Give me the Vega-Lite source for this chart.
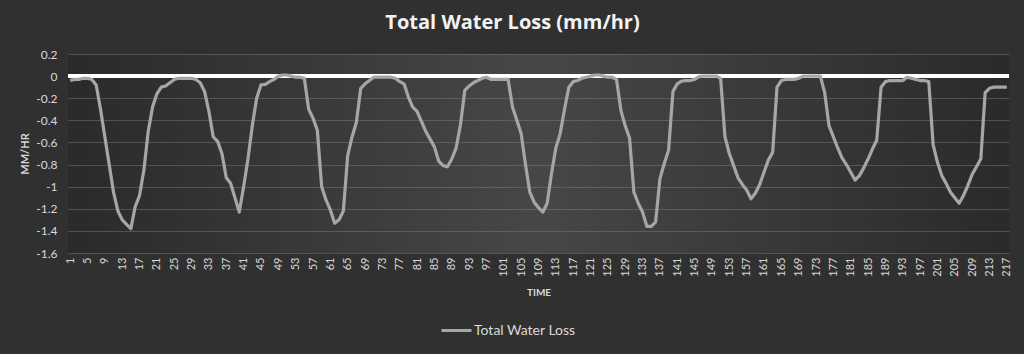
{
  "$schema": "https://vega.github.io/schema/vega-lite/v6.json",
  "width": 941,
  "height": 199,
  "autosize": {"type": "none"},
  "padding": {"left": 68, "top": 54, "right": 15, "bottom": 101},
  "background": "#303030",
  "title": {
    "text": "Total Water Loss (mm/hr)",
    "font": "Open Sans",
    "fontSize": 20,
    "fontWeight": "bold",
    "color": "#f2f2f2",
    "anchor": "middle",
    "dx": -26,
    "offset": 15
  },
  "config": {
    "view": {
      "stroke": null,
      "fill": {
        "gradient": "linear",
        "x1": 0, "y1": 0, "x2": 1, "y2": 0,
        "stops": [
          {"offset": 0, "color": "#2a2a2a"},
          {"offset": 0.5, "color": "#474747"},
          {"offset": 1, "color": "#2a2a2a"}
        ]
      }
    },
    "axis": {
      "labelFont": "Lato",
      "titleFont": "Lato",
      "labelColor": "#d9d9d9",
      "titleColor": "#d9d9d9"
    }
  },
  "data": {
    "values": [
      {"time": 1, "loss": -0.04}, {"time": 2, "loss": -0.03}, {"time": 3, "loss": -0.03}, {"time": 4, "loss": -0.02},
      {"time": 5, "loss": -0.02}, {"time": 6, "loss": -0.03}, {"time": 7, "loss": -0.08}, {"time": 8, "loss": -0.30},
      {"time": 9, "loss": -0.55}, {"time": 10, "loss": -0.80}, {"time": 11, "loss": -1.05}, {"time": 12, "loss": -1.22},
      {"time": 13, "loss": -1.30}, {"time": 14, "loss": -1.34}, {"time": 15, "loss": -1.38}, {"time": 16, "loss": -1.18},
      {"time": 17, "loss": -1.08}, {"time": 18, "loss": -0.85}, {"time": 19, "loss": -0.50}, {"time": 20, "loss": -0.28},
      {"time": 21, "loss": -0.16}, {"time": 22, "loss": -0.10}, {"time": 23, "loss": -0.09}, {"time": 24, "loss": -0.06},
      {"time": 25, "loss": -0.03}, {"time": 26, "loss": -0.02}, {"time": 27, "loss": -0.02}, {"time": 28, "loss": -0.02},
      {"time": 29, "loss": -0.02}, {"time": 30, "loss": -0.03}, {"time": 31, "loss": -0.06}, {"time": 32, "loss": -0.14},
      {"time": 33, "loss": -0.32}, {"time": 34, "loss": -0.55}, {"time": 35, "loss": -0.59}, {"time": 36, "loss": -0.70},
      {"time": 37, "loss": -0.92}, {"time": 38, "loss": -0.97}, {"time": 39, "loss": -1.10}, {"time": 40, "loss": -1.23},
      {"time": 41, "loss": -1.00}, {"time": 42, "loss": -0.75}, {"time": 43, "loss": -0.45}, {"time": 44, "loss": -0.20},
      {"time": 45, "loss": -0.08}, {"time": 46, "loss": -0.075}, {"time": 47, "loss": -0.05}, {"time": 48, "loss": -0.03},
      {"time": 49, "loss": 0.00}, {"time": 50, "loss": 0.01}, {"time": 51, "loss": 0.01}, {"time": 52, "loss": 0.00},
      {"time": 53, "loss": -0.01}, {"time": 54, "loss": -0.01}, {"time": 55, "loss": -0.02}, {"time": 56, "loss": -0.30},
      {"time": 57, "loss": -0.38}, {"time": 58, "loss": -0.49}, {"time": 59, "loss": -1.00}, {"time": 60, "loss": -1.12},
      {"time": 61, "loss": -1.21}, {"time": 62, "loss": -1.33}, {"time": 63, "loss": -1.30}, {"time": 64, "loss": -1.22},
      {"time": 65, "loss": -0.72}, {"time": 66, "loss": -0.55}, {"time": 67, "loss": -0.42}, {"time": 68, "loss": -0.11},
      {"time": 69, "loss": -0.07}, {"time": 70, "loss": -0.04}, {"time": 71, "loss": -0.01}, {"time": 72, "loss": -0.01},
      {"time": 73, "loss": -0.01}, {"time": 74, "loss": -0.01}, {"time": 75, "loss": -0.01}, {"time": 76, "loss": -0.02},
      {"time": 77, "loss": -0.05}, {"time": 78, "loss": -0.07}, {"time": 79, "loss": -0.19}, {"time": 80, "loss": -0.28},
      {"time": 81, "loss": -0.32}, {"time": 82, "loss": -0.41}, {"time": 83, "loss": -0.50}, {"time": 84, "loss": -0.57},
      {"time": 85, "loss": -0.64}, {"time": 86, "loss": -0.77}, {"time": 87, "loss": -0.81}, {"time": 88, "loss": -0.82},
      {"time": 89, "loss": -0.75}, {"time": 90, "loss": -0.65}, {"time": 91, "loss": -0.44}, {"time": 92, "loss": -0.13},
      {"time": 93, "loss": -0.09}, {"time": 94, "loss": -0.06}, {"time": 95, "loss": -0.04}, {"time": 96, "loss": -0.02},
      {"time": 97, "loss": -0.01}, {"time": 98, "loss": -0.03}, {"time": 99, "loss": -0.03}, {"time": 100, "loss": -0.03},
      {"time": 101, "loss": -0.03}, {"time": 102, "loss": -0.03}, {"time": 103, "loss": -0.28}, {"time": 104, "loss": -0.40},
      {"time": 105, "loss": -0.52}, {"time": 106, "loss": -0.80}, {"time": 107, "loss": -1.05}, {"time": 108, "loss": -1.14},
      {"time": 109, "loss": -1.19}, {"time": 110, "loss": -1.23}, {"time": 111, "loss": -1.15}, {"time": 112, "loss": -0.88},
      {"time": 113, "loss": -0.65}, {"time": 114, "loss": -0.52}, {"time": 115, "loss": -0.30}, {"time": 116, "loss": -0.10},
      {"time": 117, "loss": -0.05}, {"time": 118, "loss": -0.04}, {"time": 119, "loss": -0.02}, {"time": 120, "loss": -0.01},
      {"time": 121, "loss": 0.00}, {"time": 122, "loss": 0.01}, {"time": 123, "loss": 0.01}, {"time": 124, "loss": 0.00},
      {"time": 125, "loss": -0.01}, {"time": 126, "loss": -0.01}, {"time": 127, "loss": -0.03}, {"time": 128, "loss": -0.31},
      {"time": 129, "loss": -0.45}, {"time": 130, "loss": -0.56}, {"time": 131, "loss": -1.05}, {"time": 132, "loss": -1.15},
      {"time": 133, "loss": -1.23}, {"time": 134, "loss": -1.36}, {"time": 135, "loss": -1.36}, {"time": 136, "loss": -1.32},
      {"time": 137, "loss": -0.93}, {"time": 138, "loss": -0.79}, {"time": 139, "loss": -0.67}, {"time": 140, "loss": -0.14},
      {"time": 141, "loss": -0.07}, {"time": 142, "loss": -0.045}, {"time": 143, "loss": -0.04}, {"time": 144, "loss": -0.04},
      {"time": 145, "loss": -0.03}, {"time": 146, "loss": -0.005}, {"time": 147, "loss": 0.00}, {"time": 148, "loss": 0.00},
      {"time": 149, "loss": 0.00}, {"time": 150, "loss": 0.00}, {"time": 151, "loss": -0.02}, {"time": 152, "loss": -0.55},
      {"time": 153, "loss": -0.70}, {"time": 154, "loss": -0.81}, {"time": 155, "loss": -0.92}, {"time": 156, "loss": -0.98},
      {"time": 157, "loss": -1.03}, {"time": 158, "loss": -1.11}, {"time": 159, "loss": -1.06}, {"time": 160, "loss": -0.98},
      {"time": 161, "loss": -0.87}, {"time": 162, "loss": -0.76}, {"time": 163, "loss": -0.69}, {"time": 164, "loss": -0.10},
      {"time": 165, "loss": -0.04}, {"time": 166, "loss": -0.03}, {"time": 167, "loss": -0.03}, {"time": 168, "loss": -0.03},
      {"time": 169, "loss": -0.02}, {"time": 170, "loss": 0.00}, {"time": 171, "loss": 0.00}, {"time": 172, "loss": 0.00},
      {"time": 173, "loss": 0.00}, {"time": 174, "loss": 0.00}, {"time": 175, "loss": -0.15}, {"time": 176, "loss": -0.45},
      {"time": 177, "loss": -0.55}, {"time": 178, "loss": -0.65}, {"time": 179, "loss": -0.74}, {"time": 180, "loss": -0.80},
      {"time": 181, "loss": -0.87}, {"time": 182, "loss": -0.94}, {"time": 183, "loss": -0.90}, {"time": 184, "loss": -0.83},
      {"time": 185, "loss": -0.75}, {"time": 186, "loss": -0.66}, {"time": 187, "loss": -0.58}, {"time": 188, "loss": -0.10},
      {"time": 189, "loss": -0.05}, {"time": 190, "loss": -0.04}, {"time": 191, "loss": -0.04}, {"time": 192, "loss": -0.04},
      {"time": 193, "loss": -0.04}, {"time": 194, "loss": -0.01}, {"time": 195, "loss": -0.02}, {"time": 196, "loss": -0.03},
      {"time": 197, "loss": -0.04}, {"time": 198, "loss": -0.04}, {"time": 199, "loss": -0.05}, {"time": 200, "loss": -0.62},
      {"time": 201, "loss": -0.78}, {"time": 202, "loss": -0.90}, {"time": 203, "loss": -0.97}, {"time": 204, "loss": -1.05},
      {"time": 205, "loss": -1.10}, {"time": 206, "loss": -1.15}, {"time": 207, "loss": -1.08}, {"time": 208, "loss": -0.99},
      {"time": 209, "loss": -0.89}, {"time": 210, "loss": -0.82}, {"time": 211, "loss": -0.75}, {"time": 212, "loss": -0.15},
      {"time": 213, "loss": -0.11}, {"time": 214, "loss": -0.10}, {"time": 215, "loss": -0.10}, {"time": 216, "loss": -0.10},
      {"time": 217, "loss": -0.10}
    ]
  },
  "encoding": {
    "y": {
      "field": "loss",
      "type": "quantitative",
      "scale": {"domain": [-1.6, 0.2], "nice": false, "zero": false},
      "axis": {
        "title": "MM/HR",
        "titleFontSize": 11,
        "titleFontWeight": "bold",
        "titlePadding": 5,
        "values": [-1.6, -1.4, -1.2, -1, -0.8, -0.6, -0.4, -0.2, 0, 0.2],
        "labelExpr": "'' + datum.value",
        "labelFontSize": 12,
        "labelPadding": 11,
        "ticks": false,
        "domain": false,
        "grid": true,
        "gridColor": "#808080",
        "gridOpacity": 0.45,
        "gridWidth": 1
      }
    }
  },
  "layer": [
    {
      "mark": {"type": "rule", "color": "#ffffff", "strokeWidth": 3},
      "encoding": {"y": {"datum": 0}}
    },
    {
      "mark": {"type": "line", "strokeWidth": 3.2, "interpolate": "linear", "strokeJoin": "round"},
      "encoding": {
        "x": {
          "field": "time",
          "type": "ordinal",
          "scale": {"type": "point", "padding": 0.5},
          "axis": {
            "title": "TIME",
            "titleFontSize": 10,
            "titleFontWeight": "bold",
            "titlePadding": 11,
            "values": [1,5,9,13,17,21,25,29,33,37,41,45,49,53,57,61,65,69,73,77,81,85,89,93,97,101,105,109,113,117,121,125,129,133,137,141,145,149,153,157,161,165,169,173,177,181,185,189,193,197,201,205,209,213,217],
            "labelAngle": -90,
            "labelFontSize": 11,
            "labelPadding": 4,
            "labelOverlap": false,
            "ticks": false,
            "domain": false,
            "grid": false
          }
        },
        "color": {
          "datum": "Total Water Loss",
          "scale": {"range": ["#a6a6a6"]},
          "legend": {
            "title": null,
            "orient": "none",
            "legendX": 372,
            "legendY": 260,
            "symbolType": "stroke",
            "symbolSize": 900,
            "symbolStrokeWidth": 3,
            "symbolStrokeColor": "#a6a6a6",
            "labelFont": "Lato",
            "labelFontSize": 14,
            "labelColor": "#d9d9d9",
            "labelOffset": 1
          }
        }
      }
    }
  ]
}
